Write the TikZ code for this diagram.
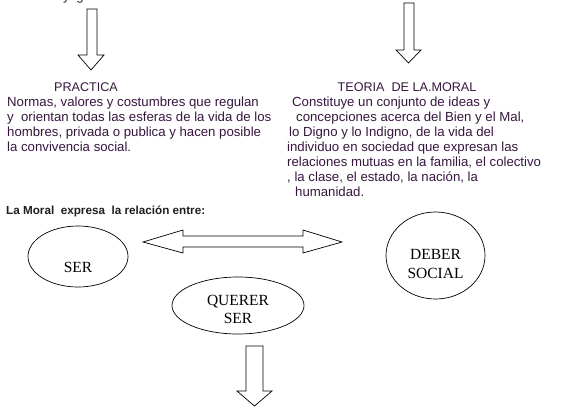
\documentclass[tikz,border=0pt]{standalone}
\usepackage{fontspec}
\usetikzlibrary{shapes.geometric}
\setmainfont{Liberation Sans}
\newfontfamily\serifface{Liberation Serif}
\definecolor{txt}{RGB}{55,22,62}
\definecolor{boldtxt}{RGB}{30,30,30}
\begin{document}
\begin{tikzpicture}[x=1pt,y=-1pt,
  blk/.style={draw=black,line width=0.7pt,fill=white},
  para/.style={anchor=base west,inner sep=0pt,text=txt,font=\fontsize{13.2}{15}\selectfont},
  head/.style={anchor=base,inner sep=0pt,text=txt,font=\fontsize{12.6}{15}\selectfont},
  oval/.style={draw=black,line width=0.7pt,ellipse,inner sep=0pt},
  lbl/.style={anchor=base,inner sep=0pt,font=\serifface\fontsize{15.5}{18}\selectfont}]
\useasboundingbox (0,0) rectangle (569,410);
\clip (0,0) rectangle (569,410);
% partial text at top
\node[para] (topfrag) at (63,0.3) {y\hspace{0.5em}g};
% top-left arrow
\draw[blk] (87,9) -- (97,9) -- (97,55) -- (104,55) -- (91,70) -- (78,55) -- (87,55) -- cycle;
% top-right arrow
\draw[blk] (404,3) -- (414,3) -- (414,50) -- (421,50) -- (408.5,63) -- (396,50) -- (404,50) -- cycle;
% PRACTICA
\node[head] (practica) at (86,91) {PRACTICA};
\node[para] (p1) at (7,106) {Normas, valores y costumbres que regulan};
\node[para] (p2) at (7,121) {y\ \ orientan todas las esferas de la vida de los};
\node[para] (p3) at (7,136) {hombres, privada o publica y hacen posible};
\node[para] (p4) at (7,151) {la convivencia social.};
% TEORIA
\node[head] (teoria) at (407,91) {TEORIA\ \ DE LA.MORAL};
\node[para] (t1) at (292,106) {Constituye un conjunto de ideas y};
\node[para] (t2) at (296,121) {concepciones acerca\ del Bien y el Mal,};
\node[para] (t3) at (289,136) {lo Digno y lo Indigno, de la vida del};
\node[para] (t4) at (287,151) {individuo en sociedad que expresan\ las};
\node[para] (t5) at (287,166) {relaciones mutuas\ en la familia, el colectivo};
\node[para] (t6) at (287,181) {, la clase, el estado, la nación, la};
\node[para] (t7) at (295,196) {humanidad.};
% bold line
\node[anchor=base west,inner sep=0pt,text=boldtxt,font=\bfseries\fontsize{11.7}{14}\selectfont] (rel) at (6,214) {La Moral\ \ expresa\ \ la relación entre:};
% ellipses
\node[oval,minimum width=100,minimum height=61] (ser) at (78,256.5) {};
\node[lbl] (serl) at (78,272) {SER};
\node[oval,minimum width=99,minimum height=87] (deber) at (435.5,255.5) {};
\node[lbl] (deberl) at (435.5,259) {DEBER};
\node[lbl] (sociall) at (435.5,278) {SOCIAL};
\node[oval,minimum width=132,minimum height=57] (querer) at (238,305.5) {};
\node[lbl] (quererl) at (238,305) {QUERER};
\node[lbl] (quererl2) at (238,323) {SER};
% double arrow
\draw[blk] (143,242) -- (183,230) -- (183,236) -- (303,236) -- (303,230) -- (342,242)
  -- (303,253) -- (303,247) -- (183,247) -- (183,253) -- cycle;
% bottom arrow
\draw[blk] (246,346) -- (263,346) -- (263,391) -- (272,391) -- (254.5,406) -- (237,391) -- (246,391) -- cycle;
\end{tikzpicture}
\end{document}
